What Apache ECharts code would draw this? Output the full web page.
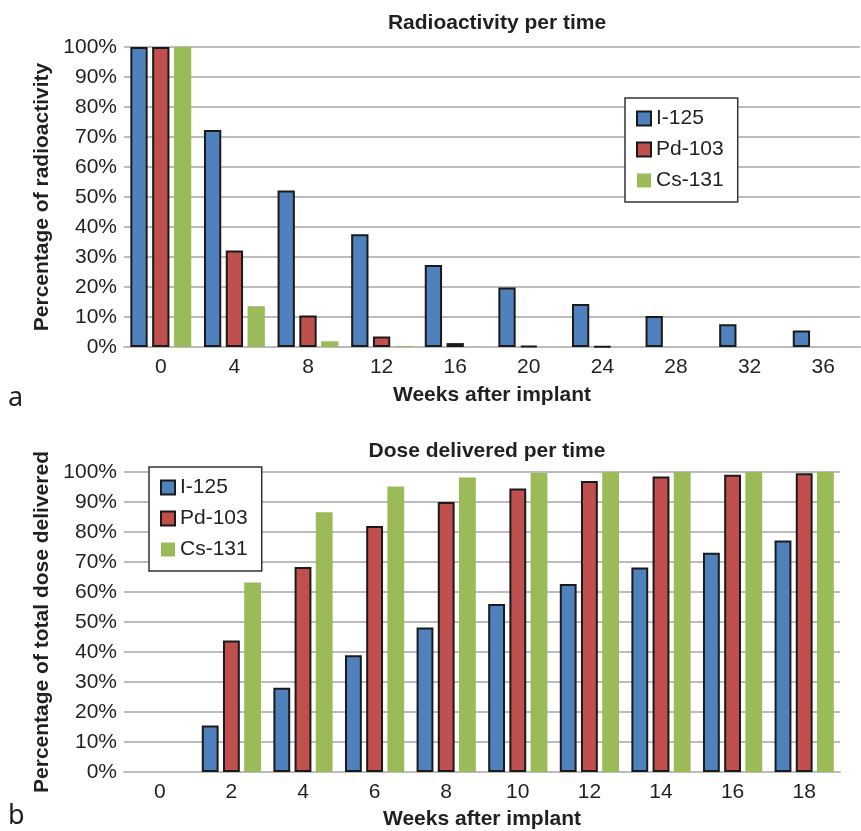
<!DOCTYPE html>
<html>
<head>
<meta charset="utf-8">
<script src="https://cdn.jsdelivr.net/npm/echarts@6/dist/echarts.min.js"></script>
<style>
html,body{margin:0;padding:0;background:#fff;}
#chart{width:861px;height:831px;}
</style>
</head>
<body>
<div id="chart"></div>
<script>
// ---- Panel a: Radioactivity per time ----
const weeksA = ['0','4','8','12','16','20','24','28','32','36'];
const actI125 = [100, 72.3, 52.2, 37.6, 27.3, 19.8, 14.3, 10.3, 7.6, 5.5];
const actPd103 = [100, 32.2, 10.5, 3.5, 1.3, 0.4, 0.2, 0, 0, 0];
const actCs131 = [100, 13.6, 1.9, 0.3, 0.05, 0, 0, 0, 0, 0];

// ---- Panel b: Dose delivered per time ----
const weeksB = ['0','2','4','6','8','10','12','14','16','18'];
const doseI125 = [0, 15.5, 28.1, 38.9, 48.2, 56.0, 62.7, 68.2, 73.1, 77.2];
const dosePd103 = [0, 43.8, 68.3, 82.0, 90.0, 94.5, 97.0, 98.5, 99.1, 99.6];
const doseCs131 = [0, 63.2, 86.6, 95.2, 98.2, 99.7, 99.9, 100, 100, 100];

const yTicks = ['0%','10%','20%','30%','40%','50%','60%','70%','80%','90%','100%'];
const seriesNames = ['I-125','Pd-103','Cs-131'];

const FONT = 'Liberation Sans';
const FS = 21;
const TXT = '#231f20';
const colors = ['#4f81bd','#c0504d','#9bbb59'];
const border = {borderColor:'#1a1a1a', borderWidth:2};

const chart = echarts.init(document.getElementById('chart'), null, {renderer:'canvas'});

function xAx(gi, cats, gap){
  return {
    type:'category', gridIndex:gi, data:cats,
    name:'Weeks after implant', nameLocation:'middle', nameGap:gap,
    nameTextStyle:{fontFamily:FONT, fontSize:FS, fontWeight:'bold', color:TXT},
    axisLine:{show:true, lineStyle:{color:'#bcbcbc', width:2}},
    axisTick:{show:false},
    axisLabel:{fontFamily:FONT, fontSize:FS, color:TXT, margin:10},
    splitLine:{show:false}
  };
}
function yAx(gi, name){
  return {
    type:'value', gridIndex:gi, min:0, max:100, interval:10,
    name:name, nameLocation:'middle', nameRotate:90, nameGap:65,
    nameTextStyle:{fontFamily:FONT, fontSize:FS, fontWeight:'bold', color:TXT},
    axisLine:{show:false}, axisTick:{show:false},
    axisLabel:{fontFamily:FONT, fontSize:FS, color:TXT, margin:7,
      formatter:function(v){ return yTicks[Math.round(v/10)]; }},
    splitLine:{show:true, lineStyle:{color:'#bcbcbc', width:2}}
  };
}
function bar(gi, idx, data){
  return {
    type:'bar', name:seriesNames[idx], xAxisIndex:gi, yAxisIndex:gi,
    data:data.map(function(v){ return v === 0 ? '-' : v; }),
    barWidth:'23.5%', barGap:'26%',
    itemStyle: idx<2 ? Object.assign({color:colors[idx]}, border) : {color:colors[idx]},
    emphasis:{disabled:true}, animation:false
  };
}
function legend(left, top){
  return {
    orient:'vertical', left:left, top:top,
    data:seriesNames,
    icon:'rect', itemWidth:14, itemHeight:14, itemGap:10, itemTextGap:9,
    padding:[10,14,11,11],
    borderColor:'#333', borderWidth:1.5, backgroundColor:'#fff',
    textStyle:{fontFamily:FONT, fontSize:FS, color:TXT},
    selectedMode:false
  };
}

const option = {
  backgroundColor:'#fff',
  animation:false,
  color:colors,
  title:[
    {text:'Radioactivity per time', left:492, top:8, textAlign:'center',
     textStyle:{fontFamily:FONT, fontSize:FS, fontWeight:'bold', color:TXT}},
    {text:'Dose delivered per time', left:482, top:436, textAlign:'center',
     textStyle:{fontFamily:FONT, fontSize:FS, fontWeight:'bold', color:TXT}}
  ],
  grid:[
    {left:124, top:47, right:1, bottom:484},
    {left:124, top:472, right:21, bottom:59}
  ],
  xAxis:[xAx(0, weeksA, 38), xAx(1, weeksB, 37)],
  yAxis:[yAx(0,'Percentage of radioactivity'), yAx(1,'Percentage of total dose delivered')],
  legend:[legend(625, 98), legend(149, 467)],
  series:[
    bar(0,0,actI125), bar(0,1,actPd103), bar(0,2,actCs131),
    bar(1,0,doseI125), bar(1,1,dosePd103), bar(1,2,doseCs131)
  ],
  graphic:[
    {type:'text', left:8, top:385, style:{text:'a', font:'27px "Noto Sans"', fill:TXT}},
    {type:'text', left:8, top:803, style:{text:'b', font:'27px "Noto Sans"', fill:TXT}}
  ]
};
chart.setOption(option);
</script>
</body>
</html>
